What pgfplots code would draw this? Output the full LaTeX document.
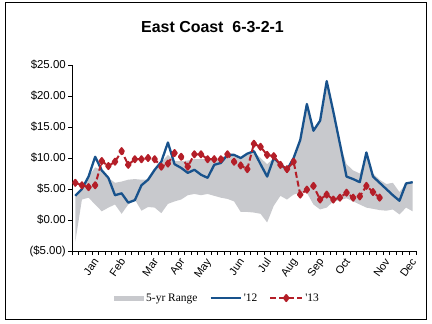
\documentclass[border=0pt]{standalone}
\usepackage{pgfplots}
\pgfplotsset{compat=1.18}
\usepackage{pgfplotstable}
\usepgfplotslibrary{fillbetween}
\usepackage{fontspec}
\setmainfont{Liberation Sans}
\newfontfamily\legfont{Liberation Serif}
\definecolor{rangegray}{RGB}{200,201,205}
\definecolor{blue12}{RGB}{24,82,140}
\definecolor{red13}{RGB}{180,30,40}

\pgfplotstableread{
x    lo    hi    y12   y13
0.5  -3.5  4.0   3.9   6.0
1.5  3.3   5.0   5.0   5.6
2.5  3.6   7.0   7.0   5.3
3.5  2.5   8.5   10.2  5.6
4.5  1.4   8.0   8.0   9.5
5.5  2.0   6.8   6.8   8.7
6.5  2.5   6.0   4.0   9.4
7.5  1.0   6.2   4.3   11.1
8.5  2.5   6.5   2.8   8.9
9.5  3.3   6.6   3.2   9.8
10.5 1.5   6.5   5.6   9.8
11.5 2.1   6.5   6.5   10.0
12.5 2.0   8.1   8.1   9.8
13.5 1.1   9.3   9.4   8.6
14.5 2.6   10.5  12.5  9.1
15.5 3.0   9.5   9.0   10.8
16.5 3.3   9.5   8.4   10.2
17.5 4.0   9.6   7.6   8.6
18.5 4.2   9.8   8.1   10.6
19.5 4.0   9.8   7.3   10.6
20.5 4.2   9.8   6.8   9.8
21.5 3.9   9.8   8.9   9.8
22.5 3.6   10.0  9.2   9.8
23.5 3.4   10.5  10.5  10.6
24.5 3.0   10.5  10.5  9.4
25.5 1.3   10.0  10.0  8.8
26.5 1.3   10.7  10.7  8.2
27.5 1.2   11.0  11.1  12.3
28.5 1.0   10.0  9.0   11.8
29.5 -0.4  9.0   7.0   10.5
30.5 2.3   10.0  10.0  10.3
31.5 3.9   9.0   9.0   8.9
32.5 3.3   8.5   8.1   8.2
33.5 4.1   10.0  10.0  9.4
34.5 4.4   12.9  12.9  4.1
35.5 4.4   18.7  18.7  4.9
36.5 2.5   14.4  14.4  5.5
37.5 1.7   16.0  16.0  3.3
38.5 2.0   22.4  22.4  4.1
39.5 3.0   17.5  17.5  3.3
40.5 3.2   12.3  12.3  3.6
41.5 3.5   9.0   7.0   4.4
42.5 3.0   8.0   6.6   3.6
43.5 2.5   7.5   6.1   3.8
44.5 2.0   10.5  10.9  5.5
45.5 1.8   7.5   7.0   4.5
46.5 1.6   6.5   6.0   3.6
47.5 1.5   5.8   5.0   nan
48.5 1.7   6.0   4.0   nan
49.5 0.9   4.5   3.1   nan
50.5 2.0   5.9   5.9   nan
51.5 1.4   6.1   6.1   nan
}\data

\begin{document}
\begin{tikzpicture}
\begin{axis}[
  at={(72bp,73bp)}, anchor=south west,
  scale only axis, width=344bp, height=186bp,
  xmin=0, xmax=52, ymin=-5, ymax=25,
  axis lines=left,
  axis line style={-, line width=0.8bp, black},
  tick align=outside,
  major tick length=4bp,
  minor tick length=4bp,
  tick style={black, line width=0.6bp},
  ytick={-5,0,5,10,15,20,25},
  yticklabels={(\$5.00),\$0.00,\$5.00,\$10.00,\$15.00,\$20.00,\$25.00},
  yticklabel style={font=\fontsize{11.5}{13}\selectfont, inner sep=2bp},
  xtick={3,7,12,16,20,25,29,33,37,41,47,51},
  xticklabels={Jan,Feb,Mar,Apr,May,Jun,Jul,Aug,Sep,Oct,Nov,Dec},
  minor xtick={0,1,...,52},
  xticklabel style={rotate=55, anchor=north east, inner sep=1bp, font=\fontsize{11}{13}\selectfont, yshift=-1bp},
  legend style={at={(0.423,-0.253)}, anchor=center, draw=none, fill=none,
    legend columns=-1, font=\legfont\fontsize{11.5}{13}\selectfont,
    /tikz/every even column/.append style={column sep=10bp}},
]
\addplot[name path=hi, draw=none, forget plot] table[x=x,y=hi]{\data};
\addplot[name path=lo, draw=none, forget plot] table[x=x,y=lo]{\data};
\addplot[fill=rangegray, draw=none,
  legend image code/.code={\fill[rangegray] (0bp,-2.5bp) rectangle (30bp,2.5bp);}]
  fill between[of=hi and lo];
\addplot[blue12, line width=2.3bp, line join=round,
  legend image code/.code={\draw[blue12, line width=2.3bp] (0bp,0bp) -- (30bp,0bp);}]
  table[x=x,y=y12]{\data};
\addplot[red13, line width=2bp, dash pattern=on 6bp off 3bp, line join=round,
  mark=diamond*, mark size=3bp, mark options={solid, fill=red13},
  legend image code/.code={\draw[red13, line width=2bp, dash pattern=on 6bp off 3bp] (0bp,0bp) -- (32bp,0bp);
    \draw[red13, fill=red13] plot[only marks, mark=diamond*, mark size=3bp] coordinates {(16bp,0bp)};}]
  table[x=x,y=y13]{\data};
\legend{5-yr Range,'12,'13}
\end{axis}
\path (0bp,0bp) rectangle (432bp,324bp);
\draw[line width=0.8bp] (5bp,4.7bp) rectangle (426bp,321.3bp);
\node[anchor=base, font=\fontsize{16}{18}\selectfont\bfseries] at (212.5bp,291.7bp) {East Coast\ \ 6-3-2-1};
\end{tikzpicture}
\end{document}
